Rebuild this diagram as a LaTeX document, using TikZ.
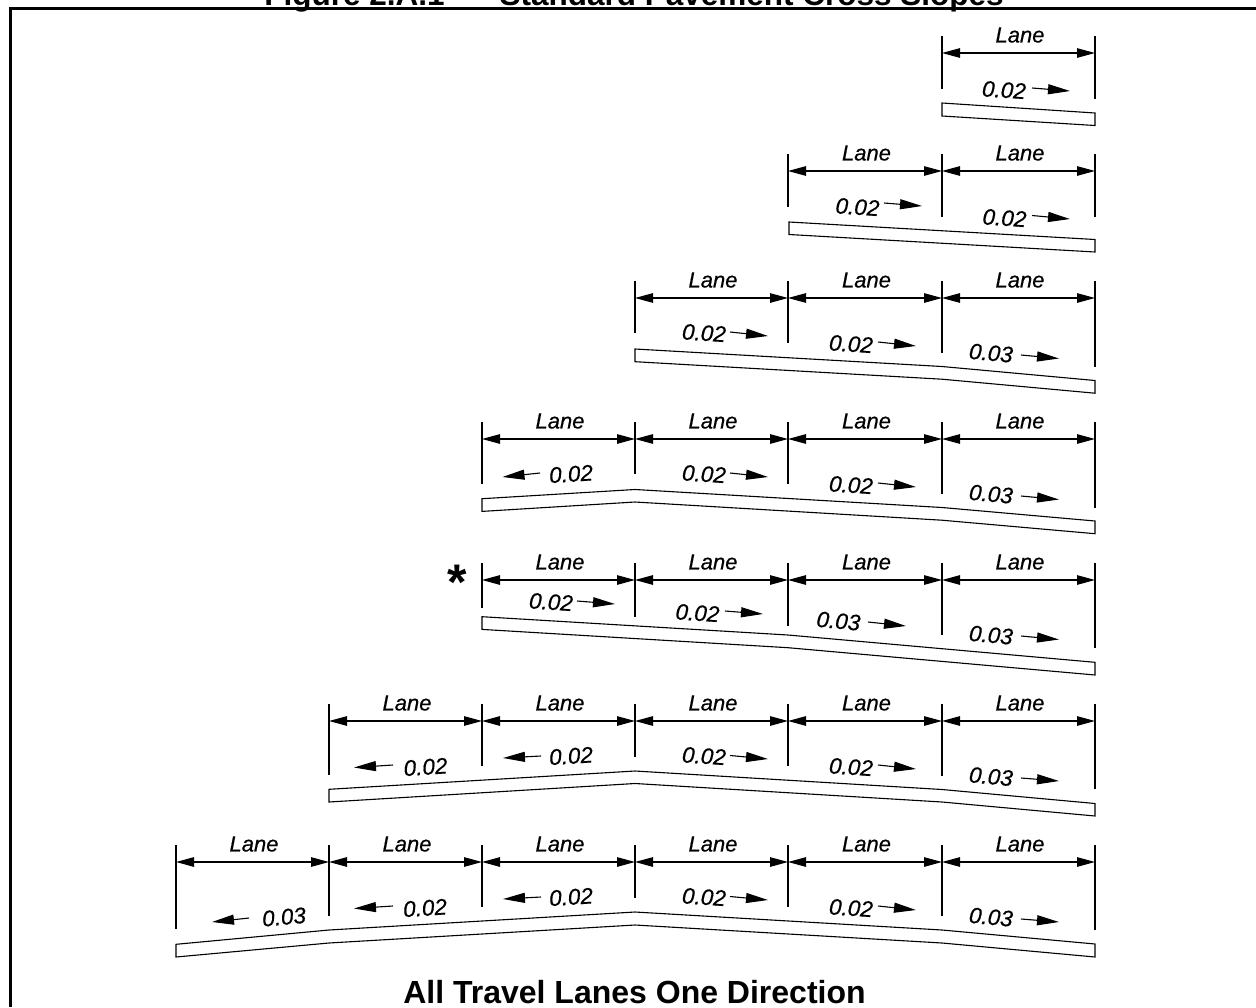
\documentclass[tikz,border=0pt]{standalone}
\usepackage{fontspec}
\setmainfont{Liberation Sans}
\newfontfamily\dimfont{Liberation Sans Italic}[FakeBold=0.5]
\usetikzlibrary{arrows.meta,calc}
\tikzset{
  framerule/.style={line width=3.4pt,black},
  ticks/.style={line width=1.1pt,black},
  dimline/.style={line width=1.1pt,black,{Triangle[length=18pt,width=9.5pt]}-{Triangle[length=18pt,width=9.5pt]}},
  slopeline/.style={line width=1.1pt,black,-{Triangle[length=22pt,width=10pt]}},
  slab/.style={line width=1.1pt,black,line join=miter},
  lanelabel/.style={inner sep=0pt,font=\fontsize{22}{24}\selectfont\dimfont},
  slopelabel/.style={inner sep=0pt,font=\fontsize{22.5}{24}\selectfont\dimfont},
  headline/.style={inner sep=0pt,anchor=base,font=\fontsize{31.5}{34}\selectfont\bfseries},
}
% #1 row, #2 tick top, #3 dimension y, #4 list x/tick bottom
\newcommand\rowdims[4]{%
  \foreach \x/\b [remember=\x as \px (initially 0)] in {#4}{%
    \coordinate (r#1t\x) at (\x,#2);
    \coordinate (r#1b\x) at (\x,\b);
    \coordinate (r#1d\x) at (\x,#3);
    \draw[ticks] (r#1t\x) -- (r#1b\x);
    \ifnum\px>0
      \draw[dimline] (r#1d\px) -- (r#1d\x);
      \node[lanelabel] (r#1l\x) at ($(r#1d\px)!.5!(r#1d\x)+(1.5,-18)$) {Lane};
    \fi
  }%
}
% #1 name, #2 text, #3 rotation, #4 label pos, #5 arrow start, #6 arrow tip
\newcommand\slopemark[6]{%
  \node[slopelabel,rotate=#3] (#1) at (#4) {#2};
  \coordinate (#1s) at (#5);
  \coordinate (#1e) at (#6);
  \draw[slopeline] (#1s) -- (#1e);
}
\begin{document}
\begin{tikzpicture}[x=1pt,y=-1pt]
\useasboundingbox (0,0) rectangle (1256,1007);
\clip (0,0) rectangle (1256,1007);
\fill[white] (0,0) rectangle (1256,1007);
% frame
\coordinate (fa) at (10.6,1007);
\coordinate (fb) at (10.6,8.4);
\coordinate (fc) at (1256,8.4);
\draw[framerule] (fa) -- (fb) -- (fc);
\node[headline] (title) at (634,5) {Figure 2.A.1\hspace{3pt} — \hspace{3pt}Standard Pavement Cross Slopes};
\node[headline,font=\fontsize{32}{34}\selectfont\bfseries] (caption) at (634.5,1003) {All Travel Lanes One Direction};
% row 1
\rowdims{1}{36}{53}{942/89,1095/98.5}
\draw[slab] (942,103) -- (1095,113) -- (1095,125.5) -- (942,116) -- cycle;
\slopemark{a1}{0.02}{-3.7}{1004,90}{1032,88}{1070,91}
% row 2
\rowdims{2}{154}{171}{788/207,942/216.5,1095/216.5}
\draw[slab] (789,222) -- (1095,239.5) -- (1095,252) -- (789,234.5) -- cycle;
\slopemark{b1}{0.02}{-3.7}{857.5,207}{884,203}{922,206}
\slopemark{b2}{0.02}{-3.7}{1004.5,218}{1032,215.5}{1070,219}
% row 3
\rowdims{3}{281}{298}{635/333,788/343,942/352.7,1095/366.7}
\draw[slab] (635,349) -- (942,366.5) -- (1095,380.5) -- (1095,393.2) -- (942,379.2) -- (635,361.7) -- cycle;
\slopemark{c1}{0.02}{-3.7}{704,333}{730,332}{768,336}
\slopemark{c2}{0.02}{-3.7}{851,344}{878,342}{916,346}
\slopemark{c3}{0.03}{-5.2}{991,353}{1021,355}{1059,358.5}
% row 4
\rowdims{4}{422}{439}{482/484,635/474,788/484,942/493.5,1095/507.5}
\draw[slab] (482,498.7) -- (635,489.5) -- (942,507.5) -- (1095,521) -- (1095,533.7) -- (942,520.2) -- (635,502) -- (482,511.4) -- cycle;
\slopemark{d1}{0.02}{3.7}{571,474}{540,473}{502.5,477}
\slopemark{d2}{0.02}{-3.7}{704,474}{730,473}{768,477}
\slopemark{d3}{0.02}{-3.7}{851,485}{878,483}{916,487}
\slopemark{d4}{0.03}{-5.2}{991,494}{1021,496}{1059,499.5}
% row 5
\node[inner sep=0pt,font=\fontsize{50}{50}\selectfont\bfseries] (star) at (457,582) {*};
\rowdims{5}{563}{580}{482/607.7,635/616.5,788/625.5,942/634.7,1095/648}
\draw[slab] (482,616.7) -- (788,635) -- (1095,662.3) -- (1095,675) -- (788,647.7) -- (482,629.4) -- cycle;
\slopemark{e1}{0.02}{-3.7}{551,602}{577,601}{615,604}
\slopemark{e2}{0.02}{-3.7}{697.5,613}{725,611}{763,614}
\slopemark{e3}{0.03}{-5.2}{838.5,621}{868,622}{906,626}
\slopemark{e4}{0.03}{-5.2}{991,635}{1021,636}{1059,639.5}
% row 6
\rowdims{6}{704}{721}{329/775,482/766,635/757,788/766,942/775.5,1095/789}
\draw[slab] (329,789.3) -- (635,771) -- (942,789.5) -- (1095,803.5) -- (1095,816) -- (942,802) -- (635,783.5) -- (329,802) -- cycle;
\slopemark{f1}{0.02}{3.7}{425.5,767}{393,765}{354,767.5}
\slopemark{f2}{0.02}{3.7}{571,756}{541,756}{503,758}
\slopemark{f3}{0.02}{-3.7}{704,756}{730,755.5}{768,759}
\slopemark{f4}{0.02}{-3.7}{851,767}{878,765}{916,769}
\slopemark{f5}{0.03}{-5.2}{991,776.5}{1021,778}{1059,781}
% row 7
\rowdims{7}{845}{862}{176/929,329/916,482/907,635/897.5,788/907,942/916,1095/930}
\draw[slab] (176,944.3) -- (329,930) -- (635,912) -- (942,930) -- (1095,944) -- (1095,957) -- (942,943) -- (635,925) -- (329,943) -- (176,957) -- cycle;
\slopemark{g1}{0.03}{5.2}{284,917}{249,918}{212,922}
\slopemark{g2}{0.02}{3.7}{425,908}{393,906}{354,908.5}
\slopemark{g3}{0.02}{3.7}{571,897}{541,897}{503,899}
\slopemark{g4}{0.02}{-3.7}{704,897}{730,896.5}{768,900}
\slopemark{g5}{0.02}{-3.7}{851,908}{878,906}{916,910}
\slopemark{g6}{0.03}{-5.2}{991,917}{1021,919}{1059,922}
\end{tikzpicture}
\end{document}
